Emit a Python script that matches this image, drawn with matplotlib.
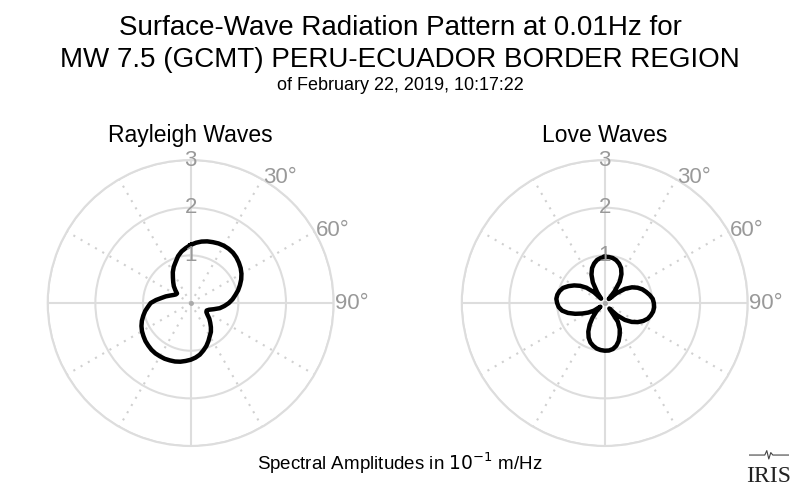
import numpy as np
import matplotlib
matplotlib.use("Agg")
import matplotlib.pyplot as plt
from matplotlib.ticker import FixedLocator

plt.rcParams['font.family'] = ['Liberation Sans', 'DejaVu Sans']

## azimuths (deg, clockwise from north) and spectral amplitudes (10^-1 m/Hz)
azimuth = np.arange(0, 360, 5)

rayleigh = [1.22, 1.27, 1.31, 1.34, 1.36, 1.38, 1.39, 1.39, 1.38, 1.355, 1.32, 1.28,
            1.23, 1.17, 1.10, 1.03, 0.95, 0.88, 0.80, 0.71, 0.62, 0.50, 0.41, 0.37,
            0.38, 0.43, 0.51, 0.58, 0.66, 0.74, 0.80, 0.88, 0.96, 1.03, 1.10, 1.15,
            1.19, 1.22, 1.25, 1.27, 1.28, 1.29, 1.29, 1.29, 1.28, 1.26, 1.24, 1.21,
            1.18, 1.14, 1.09, 1.03, 0.97, 0.90, 0.84, 0.73, 0.62, 0.54, 0.46, 0.40,
            0.36, 0.35, 0.42, 0.50, 0.57, 0.65, 0.75, 0.84, 0.92, 1.02, 1.10, 1.16]

love = [0.97, 0.97, 0.96, 0.93, 0.88, 0.81, 0.70, 0.55, 0.32, 0.12, 0.32, 0.52,
        0.66, 0.76, 0.84, 0.90, 0.96, 1.01, 1.03, 1.04, 1.03, 1.00, 0.96, 0.89,
        0.80, 0.69, 0.55, 0.36, 0.15, 0.48, 0.63, 0.74, 0.85, 0.93, 0.98, 1.00,
        1.00, 0.99, 0.97, 0.93, 0.88, 0.80, 0.69, 0.55, 0.40, 0.25, 0.12, 0.28,
        0.40, 0.52, 0.66, 0.80, 0.91, 0.97, 1.00, 1.02, 1.01, 0.98, 0.93, 0.84,
        0.74, 0.63, 0.50, 0.32, 0.12, 0.28, 0.50, 0.66, 0.78, 0.86, 0.92, 0.95]

r_ticks = [1, 2, 3]
angle_labels = [30, 60, 90]
panel_titles = ["Rayleigh Waves", "Love Waves"]

grid_col = '#dddddd'
label_col = '#999999'

fig = plt.figure(figsize=(8, 4.93), dpi=100)

def radiation_panel(rect, amps, title):
    ax = fig.add_axes(rect, projection='polar')
    ax.set_theta_zero_location('N')
    ax.set_theta_direction(-1)
    th = np.radians(np.append(azimuth, azimuth[0]))
    r = np.append(amps, amps[0])
    ax.plot(th, r, color='black', lw=3.2, solid_joinstyle='round', zorder=5)
    ax.set_rlim(0, 3)
    ax.set_rticks(r_ticks)
    ax.set_yticklabels([])
    ax.set_xticks(np.radians([0, 90, 180, 270]))
    ax.set_xticklabels([])
    ax.xaxis.set_minor_locator(FixedLocator(np.radians([30, 60, 120, 150, 210, 240, 300, 330])))
    ax.grid(True, which='major', color=grid_col, lw=1.5, ls='-')
    ax.grid(True, which='minor', axis='x', color='#d0d0d0', lw=1.5, ls=(0, (1, 3)))
    ax.tick_params(which='both', length=0)
    ax.spines['polar'].set_color(grid_col)
    ax.spines['polar'].set_linewidth(1.5)
    ax.plot([0], [0], 'o', color='#aaaaaa', ms=2.5, zorder=4)
    for rt in r_ticks:
        ax.text(0, rt, str(rt), ha='center', va='center', color=label_col, fontsize=16,
                zorder=6)
    for a in angle_labels:
        ax.text(np.radians(a), 3.03, f"{a}°", ha='left', va='center', color=label_col,
                fontsize=16)
    ax.set_title(title, fontsize=16.5, pad=13)
    return ax

radiation_panel([0.0596, 0.0953, 0.3575, 0.580], rayleigh, panel_titles[0])
radiation_panel([0.5772, 0.0953, 0.3575, 0.580], love, panel_titles[1])

fig.text(0.5, 0.929, "Surface-Wave Radiation Pattern at 0.01Hz for", ha='center',
         va='baseline', fontsize=20)
fig.text(0.5, 0.864, "MW 7.5 (GCMT) PERU-ECUADOR BORDER REGION", ha='center',
         va='baseline', fontsize=20)
fig.text(0.5, 0.817, "of February 22, 2019, 10:17:22", ha='center', va='baseline',
         fontsize=13)
fig.text(0.5, 0.047, r"Spectral Amplitudes in $10^{-1}$ m/Hz", ha='center',
         va='baseline', fontsize=13.5)

# IRIS logo (text + small seismogram squiggle)
fig.text(0.961, 0.022, "IRIS", ha='center', va='baseline', fontsize=17,
         family='Liberation Serif', color='#222222')
lax = fig.add_axes([0.936, 0.067, 0.05, 0.02])
lax.plot([0, 4, 4.5, 5, 5.5, 6, 10], [0, 0, 0.9, -0.8, 0.5, 0, 0], color='#444444', lw=0.8)
lax.set_xlim(0, 10)
lax.set_ylim(-1, 1)
lax.axis('off')

fig.savefig('out.png', dpi=100)
